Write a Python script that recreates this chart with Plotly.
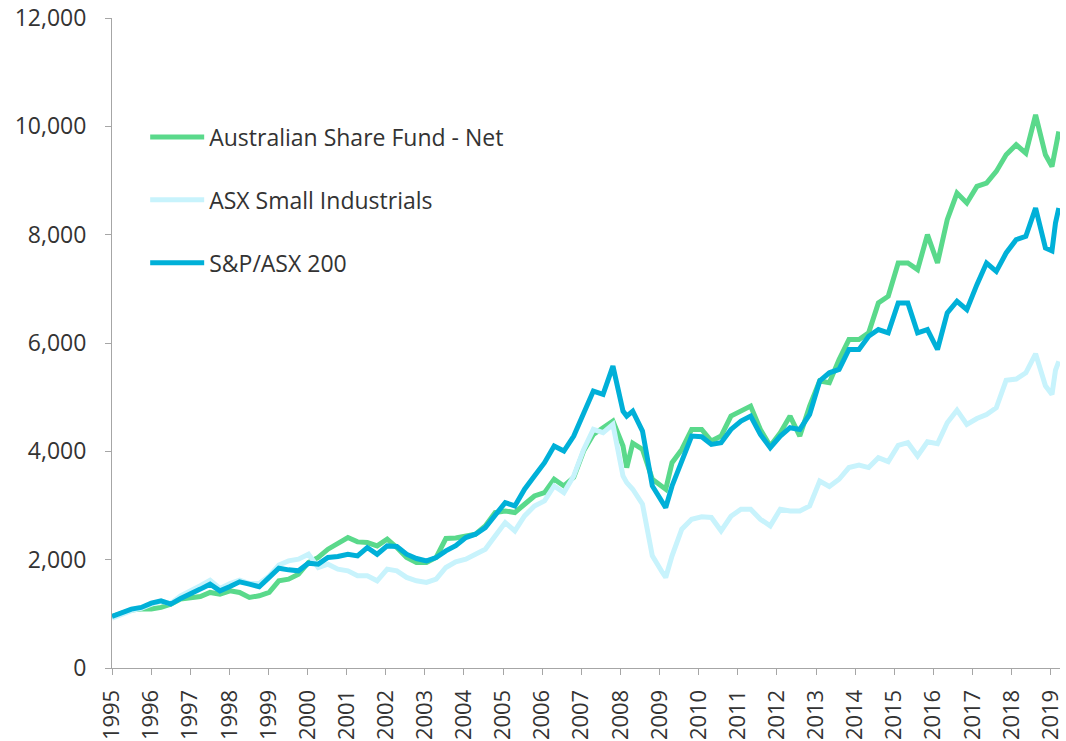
import plotly.graph_objects as go

# ---- data ----
dates = [
    "1995-01-01", "1995-04-01", "1995-07-01", "1995-10-01",
    "1996-01-03", "1996-04-03", "1996-07-03", "1996-10-03",
    "1997-01-05", "1997-04-05", "1997-07-05", "1997-10-05",
    "1998-01-07", "1998-04-07", "1998-07-07", "1998-10-07",
    "1999-01-08", "1999-04-08", "1999-07-08", "1999-10-08",
    "2000-01-10", "2000-04-10", "2000-07-10", "2000-10-10",
    "2001-01-12", "2001-04-12", "2001-07-12", "2001-10-12",
    "2002-01-14", "2002-04-14", "2002-07-14", "2002-10-14",
    "2003-01-16", "2003-04-16", "2003-07-16", "2003-10-16",
    "2004-01-18", "2004-04-18", "2004-07-18", "2004-10-18",
    "2005-01-20", "2005-04-20", "2005-07-20", "2005-10-20",
    "2006-01-22", "2006-04-22", "2006-07-22", "2006-10-22",
    "2007-01-23", "2007-04-23", "2007-07-23", "2007-10-23",
    "2008-01-25", "2008-02-29", "2008-04-25", "2008-07-25", "2008-10-25",
    "2009-01-27", "2009-02-27", "2009-04-27", "2009-07-27", "2009-10-27",
    "2010-01-29", "2010-04-29", "2010-07-29", "2010-10-29",
    "2011-01-31", "2011-05-01", "2011-07-31", "2011-10-31",
    "2012-02-02", "2012-05-03", "2012-08-02", "2012-11-02",
    "2013-02-04", "2013-05-05", "2013-08-04", "2013-11-04",
    "2014-02-06", "2014-05-07", "2014-08-06", "2014-11-06",
    "2015-02-07", "2015-05-08", "2015-08-07", "2015-11-07",
    "2016-02-09", "2016-05-10", "2016-08-09", "2016-11-09",
    "2017-02-11", "2017-05-12", "2017-08-11", "2017-11-11",
    "2018-02-13", "2018-05-14", "2018-08-13", "2018-11-13", "2019-01-13",
    "2019-02-15", "2019-03-18",
]

australian_share_fund_net = [
    950, 1000, 1070, 1090,
    1088, 1118, 1180, 1272,
    1303, 1320, 1395, 1364,
    1425, 1395, 1303, 1333,
    1395, 1610, 1640, 1733,
    1948, 2040, 2193, 2304,
    2409, 2328, 2316, 2254,
    2378, 2224, 2040, 1948,
    1948, 2040, 2390, 2400,
    2439, 2470, 2623, 2870,
    2900, 2870, 3023, 3176,
    3238, 3484, 3361, 3520,
    4010, 4313, 4436, 4560,
    4098, 3699, 4150, 4036, 3484,
    3361, 3300, 3791, 4036, 4405,
    4405, 4190, 4282, 4651,
    4743, 4835, 4405, 4098,
    4344, 4651, 4282, 4835,
    5300, 5266, 5696, 6064,
    6064, 6187, 6740, 6863,
    7477, 7477, 7354, 8000,
    7477, 8277, 8768, 8584,
    8891, 8953, 9168, 9475,
    9660, 9506, 10212, 9475, 9260,
    9660, 9906,
]

asx_small_industrials = [
    920, 990, 1060, 1100,
    1180, 1230, 1190, 1330,
    1420, 1520, 1620, 1470,
    1560, 1620, 1560, 1560,
    1700, 1900, 1978, 2009,
    2100, 1856, 1917, 1825,
    1794, 1702, 1702, 1610,
    1825, 1794, 1672, 1610,
    1579, 1640, 1856, 1960,
    2009, 2101, 2193, 2439,
    2685, 2531, 2808, 2992,
    3085, 3361, 3238, 3545,
    4036, 4405, 4344, 4497,
    3545, 3422, 3300, 3023, 2070,
    1763, 1671, 2070, 2562, 2746,
    2790, 2778, 2532, 2802,
    2931, 2931, 2747, 2624,
    2931, 2900, 2900, 2993,
    3450, 3350, 3484, 3700,
    3745, 3700, 3883, 3810,
    4110, 4160, 3914, 4175,
    4140, 4528, 4760, 4497,
    4605, 4680, 4805, 5310,
    5335, 5450, 5800, 5210, 5050,
    5500, 5660,
]

sp_asx_200 = [
    950, 1027, 1088, 1118,
    1198, 1240, 1180, 1284,
    1364, 1456, 1548, 1425,
    1505, 1591, 1548, 1500,
    1672, 1843, 1812, 1794,
    1935, 1917, 2040, 2058,
    2101, 2070, 2224, 2100,
    2254, 2242, 2101, 2021,
    1978, 2040, 2162, 2260,
    2409, 2470, 2593, 2808,
    3054, 2992, 3300, 3545,
    3791, 4098, 4006, 4282,
    4682, 5112, 5051, 5573,
    4743, 4651, 4743, 4374, 3361,
    3085, 2962, 3361, 3791, 4282,
    4270, 4128, 4159, 4405,
    4559, 4651, 4313, 4067,
    4282, 4436, 4405, 4682,
    5300, 5450, 5512, 5880,
    5880, 6125, 6249, 6187,
    6740, 6740, 6187, 6249,
    5880, 6556, 6771, 6617,
    7078, 7477, 7323, 7662,
    7908, 7969, 8492, 7754, 7700,
    8215, 8492,
]

series_names = ["Australian Share Fund - Net", "ASX Small Industrials", "S&P/ASX 200"]
series_values = [australian_share_fund_net, asx_small_industrials, sp_asx_200]
series_colors = ["#5AD98B", "#C8F3FC", "#00B0D8"]

year_labels = [str(y) for y in range(1995, 2020)]
year_ticks = [f"{y}-01-01" for y in year_labels]
y_tick_values = [0, 2000, 4000, 6000, 8000, 10000, 12000]

FONT = "Open Sans, Lato, sans-serif"
TEXT = "#333333"
AXIS = "#A6A6A6"

fig = go.Figure()
for i, (name, vals, col) in enumerate(zip(series_names, series_values, series_colors)):
    fig.add_trace(go.Scatter(
        x=dates, y=vals, name=name, mode="lines",
        line=dict(color=col, width=5),
        legendgroup=f"g{i}",
    ))

fig.update_layout(
    width=1066, height=741, autosize=False,
    margin=dict(l=112, r=6, t=18, b=73, pad=0),
    paper_bgcolor="white", plot_bgcolor="white",
    font=dict(family=FONT, color=TEXT, size=23),
    showlegend=True,
    legend=dict(
        x=0.035, y=0.85, xanchor="left", yanchor="top",
        bgcolor="rgba(0,0,0,0)", borderwidth=0,
        font=dict(family=FONT, size=23, color=TEXT),
        traceorder="grouped", tracegroupgap=30, itemwidth=54,
    ),
)

fig.update_xaxes(
    type="date", range=["1995-01-01", "2019-03-29"],
    tickmode="array", tickvals=year_ticks, ticktext=year_labels,
    tickangle=-90, ticks="outside", ticklen=6, tickcolor=AXIS,
    showline=True, linecolor=AXIS, linewidth=1,
    showgrid=False, zeroline=False, automargin=False,
    tickfont=dict(family=FONT, size=22, color=TEXT),
    ticklabelstandoff=6, ticklabeloverflow="allow",
)
fig.update_yaxes(
    range=[0, 12000], tickvals=y_tick_values, tickformat=",",
    ticks="outside", ticklen=6, tickcolor=AXIS,
    showline=True, linecolor=AXIS, linewidth=1,
    showgrid=False, zeroline=False, automargin=False,
    tickfont=dict(family=FONT, size=23, color=TEXT),
    ticklabelstandoff=14, ticklabeloverflow="allow",
)

fig.write_html(
    "out.html",
    config={"displayModeBar": False},
    post_script="document.body.style.margin='0';document.body.style.overflow='hidden';",
)
